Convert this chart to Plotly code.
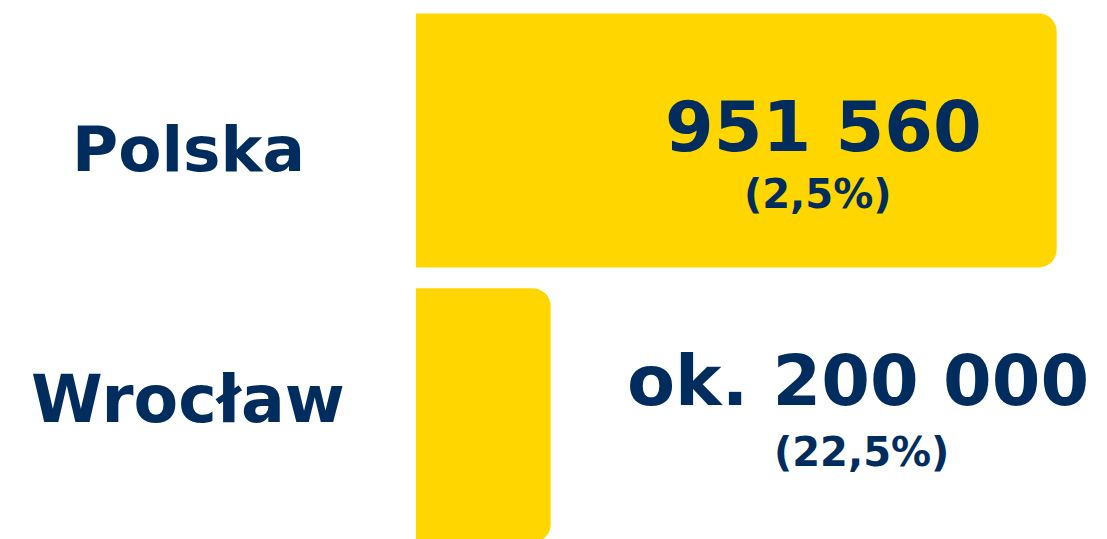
import plotly.graph_objects as go

categories = ["Polska", "Wrocław"]
values = [951560, 200000]
value_labels = ["951 560", "ok. 200 000"]
pct_labels = ["(2,5%)", "(22,5%)"]

YELLOW = "#FFD600"
NAVY = "#002D5E"
FONT = "DejaVu Sans"

W, H = 1107, 539
ML = 416
PW = W - ML

def px(x):
    return (x - ML) / PW

def py(y):
    return 1 - y / H

fig = go.Figure(go.Bar(
    x=values, y=categories, orientation="h",
    marker=dict(color=YELLOW, line=dict(width=0)),
    width=0.924, hoverinfo="skip",
))

# positions (pixel) of text labels
cat_pos = [(188, 149), (188, 399)]
val_pos = [(823, 127), (858, 381)]
pct_pos = [(818, 194), (861, 452)]
cat_sizes = [63, 65]

ann = []
for i, c in enumerate(categories):
    ann.append(dict(text=c, x=px(cat_pos[i][0]), y=py(cat_pos[i][1]), xref="paper", yref="paper",
                    xanchor="center", yanchor="middle", showarrow=False,
                    font=dict(family=FONT, size=cat_sizes[i], color=NAVY, weight="bold")))
    ann.append(dict(text=value_labels[i], x=px(val_pos[i][0]), y=py(val_pos[i][1]), xref="paper", yref="paper",
                    xanchor="center", yanchor="middle", showarrow=False,
                    font=dict(family=FONT, size=70, color=NAVY, weight="bold")))
    ann.append(dict(text=pct_labels[i], x=px(pct_pos[i][0]), y=py(pct_pos[i][1]), xref="paper", yref="paper",
                    xanchor="center", yanchor="middle", showarrow=False,
                    font=dict(family=FONT, size=40, color=NAVY, weight="bold")))

fig.update_layout(
    width=W, height=H,
    margin=dict(l=ML, r=0, t=0, b=0),
    paper_bgcolor="white", plot_bgcolor="white",
    barcornerradius=18,
    showlegend=False,
    xaxis=dict(range=[0, 951560 * PW / 640.7], visible=False, fixedrange=True),
    yaxis=dict(type="category", categoryorder="array", categoryarray=categories,
               range=[1.45, -0.5107], visible=False, fixedrange=True),
    annotations=ann,
)

fig.write_html("out.html", config={"displayModeBar": False},
               post_script="document.body.style.margin='0';document.body.style.overflow='hidden';")
